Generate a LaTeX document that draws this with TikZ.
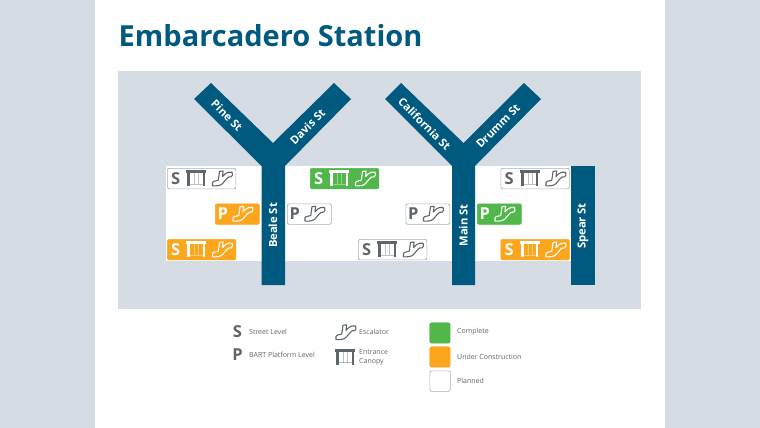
\documentclass[tikz,border=0pt]{standalone}
\usepackage{fontspec}
\setmainfont{Open Sans}
\definecolor{pagebg}{HTML}{D5DCE3}
\definecolor{mapbg}{HTML}{D6DCE3}
\definecolor{stblue}{HTML}{005A80}
\definecolor{okgreen}{HTML}{52B74B}
\definecolor{buildorange}{HTML}{FBA61C}
\definecolor{iconink}{HTML}{5F666B}
\definecolor{plain}{HTML}{A9AEB2}
\tikzset{
  street/.style={fill=stblue,draw=none},
  stlabel/.style={text=white,font=\fontsize{11.2}{12}\selectfont\bfseries,inner sep=0pt},
  legtext/.style={text=iconink,font=\fontsize{7}{9}\selectfont,anchor=west,inner sep=0pt,align=left},
  statusbox/.style={rounded corners=2pt,inner sep=0pt,anchor=north west},
  letter/.style={font=\fontsize{16.5}{16.5}\selectfont\bfseries,inner sep=0pt},
  canopy/.pic={
    \fill[pic actions] (0,0) rectangle (20,2.8);
    \fill[pic actions] (1.2,2.8) rectangle (4.4,16);
    \fill[pic actions] (16.8,2.8) rectangle (18.6,16);
    \fill[pic actions,opacity=.4] (8,2.8) rectangle (9,14);
    \fill[pic actions,opacity=.4] (12,2.8) rectangle (13,14);
    \fill[pic actions,opacity=.4] (4.4,13.4) rectangle (16.8,14.2);
  },
  escal/.pic={
    \draw[pic actions,line width=1.1pt,line join=round,fill=none]
      (1,15.6) .. controls (-0.2,13.5) and (1,10.6) .. (4.5,10.6)
      -- (6.8,10) -- (8,1.2) -- (11.6,0.8) -- (11,6.4) -- (14,3.4)
      .. controls (15.5,2.2) and (18,1.4) .. (20.6,2)
      .. controls (21.4,4) and (21,6) .. (19.8,6.6)
      .. controls (17.8,6.2) and (16.4,7) .. (15,8.6)
      -- (11,13.4) .. controls (9,15.6) and (5,15.8) .. (1,15.6) -- cycle;
  },
}
\begin{document}
\begin{tikzpicture}[x=1pt,y=-1pt]
\useasboundingbox (0,0) rectangle (760,428);
\fill[pagebg] (0,0) rectangle (760,428);
\fill[white] (95,0) rectangle (665,428);
\node[anchor=base west,inner sep=0pt,text=stblue,font=\fontsize{29}{29}\selectfont\bfseries] (title) at (118.5,47) {Embarcadero Station};
\fill[mapbg] (118,71) rectangle (641,309);
\fill[white] (166,166) rectangle (572,261);
% streets
\fill[street] (211,83) -- (194,99) -- (261.5,166) -- (261.5,285) -- (285,285) -- (285,166) -- (351,99) -- (334,83) -- (273,143) -- cycle;
\fill[street] (401,83) -- (385,99) -- (452,166) -- (452,285) -- (475,285) -- (475,166) -- (541,99) -- (524,83) -- (463.5,143) -- cycle;
\fill[street] (570.5,166) rectangle (595,285);
\node[stlabel,rotate=-45] (pine) at (227,115.5) {Pine St};
\node[stlabel,rotate=45] (davis) at (307.5,126.5) {Davis St};
\node[stlabel,rotate=-45] (calif) at (424.5,124) {California St};
\node[stlabel,rotate=45] (drumm) at (498,126) {Drumm St};
\node[stlabel,rotate=90] (beale) at (273,225.5) {Beale St};
\node[stlabel,rotate=90] (main) at (463.5,225.5) {Main St};
\node[stlabel,rotate=90] (spear) at (583,226) {Spear St};
% long status boxes
\foreach \nm/\x/\y/\fc/\dc/\ic in {
  a/167/168/white/plain/iconink,
  b/310/168/okgreen/okgreen/white,
  c/500.5/168/white/plain/iconink,
  d/167/239/buildorange/buildorange/white,
  e/358/239/white/plain/iconink,
  f/500.5/239/buildorange/buildorange/white}{
  \node[statusbox,minimum width=68.5pt,minimum height=20.5pt,fill=\fc,draw=\dc,line width=.7pt] (box\nm) at (\x,\y) {};
  \node[letter,text=\ic] (let\nm) at (\x+8.7,\y+10.3) {S};
  \pic[fill=\ic,draw=none] at (\x+19,\y+2.2) {canopy};
  \pic[draw=\ic] at (\x+44.5,\y+2.2) {escal};
}
\foreach \nm/\x/\y/\fc/\dc/\ic in {
  g/215/203.5/buildorange/buildorange/white,
  h/287/203.5/white/plain/iconink,
  i/405.5/203.5/white/plain/iconink,
  j/477/203.5/okgreen/okgreen/white}{
  \node[statusbox,minimum width=44pt,minimum height=20.5pt,fill=\fc,draw=\dc,line width=.7pt] (box\nm) at (\x,\y) {};
  \node[letter,text=\ic] (let\nm) at (\x+7.7,\y+10.3) {P};
  \pic[draw=\ic] at (\x+17,\y+2) {escal};
}
% legend
\node[letter,text=iconink] (legS) at (237.5,331.5) {S};
\node[letter,text=iconink] (legP) at (237.5,354.5) {P};
\node[legtext] (tS) at (249,332) {Street Level};
\node[legtext] (tP) at (249,355) {BART Platform Level};
\pic[draw=iconink] at (335,324) {escal};
\pic[fill=iconink,draw=none] at (335,349) {canopy};
\node[legtext] (tE) at (359,332) {Escalator};
\node[legtext] (tC) at (359,357) {Entrance\\Canopy};
\node[statusbox,minimum width=20.5pt,minimum height=20.5pt,fill=okgreen,draw=okgreen] (lg) at (429.5,322.5) {};
\node[statusbox,minimum width=20.5pt,minimum height=20.5pt,fill=buildorange,draw=buildorange] (lo) at (429.5,346.5) {};
\node[statusbox,minimum width=20.5pt,minimum height=20.5pt,fill=white,draw=plain,line width=.7pt] (lw) at (429.5,370.5) {};
\node[legtext] (t1) at (457,332) {Complete};
\node[legtext] (t2) at (457,356.5) {Under Construction};
\node[legtext] (t3) at (457,380.5) {Planned};
\end{tikzpicture}
\end{document}
